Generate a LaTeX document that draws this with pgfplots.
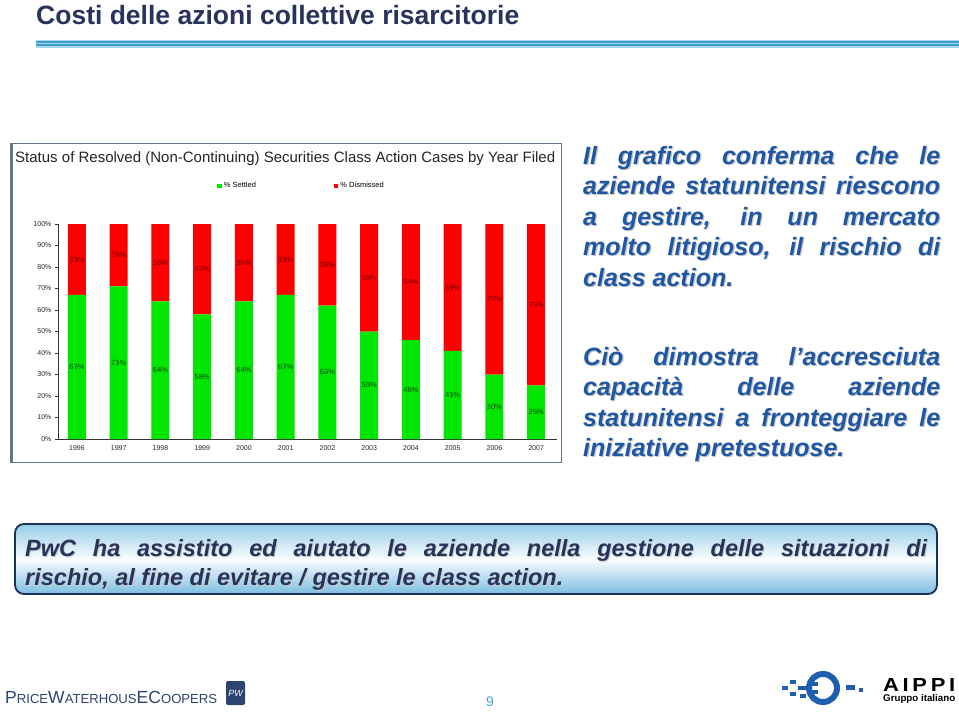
\documentclass[border=0pt]{standalone}
\usepackage{fontspec}
\setmainfont{Liberation Sans}
\usepackage{graphicx}
\usepackage{pgfplots}
\pgfplotsset{compat=1.18}
\usepackage{pgfplotstable}

\definecolor{titlecol}{RGB}{40,52,92}
\definecolor{stripeL}{RGB}{170,216,238}
\definecolor{stripeD}{RGB}{60,157,204}
\definecolor{frameCol}{RGB}{100,118,142}
\definecolor{barGreen}{RGB}{0,230,0}
\definecolor{barRed}{RGB}{255,0,0}
\definecolor{blueText}{RGB}{31,87,164}
\definecolor{navyText}{RGB}{39,51,90}
\definecolor{boxBorder}{RGB}{27,47,85}
\definecolor{boxTop}{RGB}{150,205,232}
\definecolor{boxBot}{RGB}{125,190,226}
\definecolor{pwcCol}{RGB}{46,68,112}
\definecolor{aippiBlue}{RGB}{29,95,174}
\definecolor{pageNum}{RGB}{74,168,216}
\definecolor{lblGreen}{RGB}{20,70,20}
\definecolor{lblRed}{RGB}{110,0,0}

\pgfplotstableread{
x settled dismissed
0 67 33
1 71 29
2 64 36
3 58 42
4 64 36
5 67 33
6 62 38
7 50 50
8 46 54
9 41 59
10 30 70
11 25 75
}\datatab

\pgfplotstableread{
x y lab
0 33.5 67
1 35.5 71
2 32 64
3 29 58
4 32 64
5 33.5 67
6 31 62
7 25 50
8 23 46
9 20.5 41
10 15 30
11 12.5 25
}\settledlab

\pgfplotstableread{
x y lab
0 83.5 33
1 85.5 29
2 82 36
3 79 42
4 82 36
5 83.5 33
6 81 38
7 75 50
8 73 54
9 70.5 59
10 65 70
11 62.5 75
}\dismlab

\newcommand{\rtextA}{Il grafico conferma che le\linebreak aziende statunitensi riescono\linebreak a gestire, in un mercato\linebreak molto litigioso, il rischio di\linebreak class action.}
\newcommand{\rtextB}{Ciò dimostra l’accresciuta\linebreak capacità delle aziende\linebreak statunitensi a fronteggiare le\linebreak iniziative pretestuose.}
\newcommand{\btext}{PwC ha assistito ed aiutato le aziende nella gestione delle situazioni di\linebreak rischio, al fine di evitare / gestire le class action.}

\begin{document}
\begin{tikzpicture}
\begin{scope}[x=1pt,y=-1pt]
\path[use as bounding box, fill=white] (0,0) rectangle (959,712);
% title
\node[anchor=base west, inner sep=0, text=titlecol, font=\fontsize{26.5}{28}\selectfont\bfseries] at (36,24) {Costi delle azioni collettive risarcitorie};
\fill[stripeL] (36,39.5) rectangle (959,47.5);
\fill[stripeD] (36,40.8) rectangle (959,42.6);
\fill[stripeD] (36,44.4) rectangle (959,46.2);
% chart frame
\draw[frameCol, line width=0.9pt] (11,143.5) rectangle (561,462.5);
\fill[frameCol] (10,143) rectangle (13,463);
\node[anchor=base west, inner sep=0, text=black!85] at (15,162.5) {\resizebox{540pt}{!}{\fontsize{13}{14}\selectfont Status of Resolved (Non-Continuing) Securities Class Action Cases by Year Filed}};
% right text
\node[anchor=base west, inner sep=0, text=black!22] at (584.2,165.2) {\begin{minipage}[t]{357pt}\fontsize{25}{30.5}\selectfont\bfseries\itshape\rtextA\end{minipage}};
\node[anchor=base west, inner sep=0, text=blueText] at (583,164) {\begin{minipage}[t]{357pt}\fontsize{25}{30.5}\selectfont\bfseries\itshape\rtextA\end{minipage}};
\node[anchor=base west, inner sep=0, text=black!22] at (584.2,366.2) {\begin{minipage}[t]{357pt}\fontsize{25}{30.5}\selectfont\bfseries\itshape\rtextB\end{minipage}};
\node[anchor=base west, inner sep=0, text=blueText] at (583,365) {\begin{minipage}[t]{357pt}\fontsize{25}{30.5}\selectfont\bfseries\itshape\rtextB\end{minipage}};
% bottom box
\shade[rounded corners=9pt, top color=boxTop, bottom color=boxBot, middle color=white!95!boxTop] (15,524) rectangle (937,594);
\draw[rounded corners=9pt, boxBorder, line width=1.8pt] (15,524) rectangle (937,594);
\node[anchor=base west, inner sep=0, text=black!20] at (26,557) {\begin{minipage}[t]{902pt}\fontsize{23.5}{29.5}\selectfont\bfseries\itshape\btext\end{minipage}};
\node[anchor=base west, inner sep=0, text=navyText] at (25,556) {\begin{minipage}[t]{902pt}\fontsize{23.5}{29.5}\selectfont\bfseries\itshape\btext\end{minipage}};
% footer
\node[anchor=base, inner sep=0, text=pageNum, font=\fontsize{14}{14}\selectfont] at (490,706) {9};
\node[anchor=base west, inner sep=0, text=pwcCol] at (5,703) {\resizebox{212pt}{!}{\fontsize{20}{20}\selectfont P\fontsize{15}{15}\selectfont RICE\fontsize{20}{20}\selectfont W\fontsize{15}{15}\selectfont ATERHOUS\fontsize{20}{20}\selectfont E\fontsize{20}{20}\selectfont C\fontsize{15}{15}\selectfont OOPERS}};
\fill[pwcCol, rounded corners=2pt] (226,681) rectangle (245,705);
\node[text=white, inner sep=0, font=\fontsize{9}{9}\selectfont\itshape] at (235.5,693) {PW};
% AIPPI logo
\draw[aippiBlue, line width=6pt] (823,688) circle (14);
\fill[aippiBlue] (782,686) rectangle (788,690);
\fill[aippiBlue] (790,680) rectangle (796,684);
\fill[aippiBlue] (790,692) rectangle (796,696);
\fill[aippiBlue] (798,686) rectangle (806,690);
\fill[aippiBlue] (800,694) rectangle (806,698);
\fill[aippiBlue] (809,682) rectangle (818,686);
\fill[aippiBlue] (809,690) rectangle (818,694);
\fill[aippiBlue] (846,685) rectangle (855,690);
\fill[aippiBlue] (859,688) rectangle (863,692);
\node[anchor=base west, inner sep=0] at (883,691) {\resizebox{72pt}{13pt}{\bfseries A\,I\,P\,P\,I}};
\node[anchor=base west, inner sep=0] at (883,701) {\resizebox{72pt}{!}{\fontsize{8}{8}\selectfont\bfseries Gruppo italiano}};
\end{scope}

\begin{axis}[
  at={(58pt,-439pt)}, anchor=south west,
  scale only axis, width=499pt, height=215pt,
  ybar stacked, bar width=18pt,
  xmin=-0.455, xmax=11.5, ymin=0, ymax=100,
  axis x line*=bottom, axis y line*=left,
  axis line style={-, draw=black!80},
  xtick={0,...,11},
  xticklabels={1996,1997,1998,1999,2000,2001,2002,2003,2004,2005,2006,2007},
  x tick style={draw=none},
  extra x ticks={0.5,1.5,...,10.5},
  extra x tick labels={},
  extra x tick style={tick align=outside, major tick length=3pt, tick style={draw=black!80}},
  ytick={0,10,...,100},
  yticklabel={\pgfmathprintnumber{\tick}\%},
  tick align=outside, major tick length=3pt,
  y tick style={draw=black!80},
  tick label style={font=\fontsize{7}{8}\selectfont, text=black!85},
  /pgf/number format/assume math mode=true,
  legend columns=2,
  legend style={at={(0.313,1.177)}, anchor=west, draw=none, fill=none, font=\fontsize{7.5}{8}\selectfont, /tikz/every even column/.append style={column sep=76pt}},
  legend image code/.code={\fill[#1] (0pt,-2.2pt) rectangle (4.5pt,2.2pt);},
]
\addplot[fill=barGreen, draw=none] table[x=x,y=settled]{\datatab};
\addlegendentry{\% Settled}
\addplot[fill=barRed, draw=none] table[x=x,y=dismissed]{\datatab};
\addlegendentry{\% Dismissed}
\end{axis}

\begin{axis}[
  at={(58pt,-439pt)}, anchor=south west,
  scale only axis, width=499pt, height=215pt,
  xmin=-0.455, xmax=11.5, ymin=0, ymax=100,
  hide axis, clip=false,
]
\addplot[only marks, mark=*, mark size=0.1pt, mark options={draw=none, fill=none},
  point meta=explicit symbolic, nodes near coords={\pgfplotspointmeta\%},
  nodes near coords style={anchor=center, font=\fontsize{7.5}{8}\selectfont, text=lblGreen}]
  table[x=x,y=y,meta=lab]{\settledlab};
\addplot[only marks, mark=*, mark size=0.1pt, mark options={draw=none, fill=none},
  point meta=explicit symbolic, nodes near coords={\pgfplotspointmeta\%},
  nodes near coords style={anchor=center, font=\fontsize{7.5}{8}\selectfont, text=lblRed}]
  table[x=x,y=y,meta=lab]{\dismlab};
\end{axis}
\end{tikzpicture}
\end{document}
